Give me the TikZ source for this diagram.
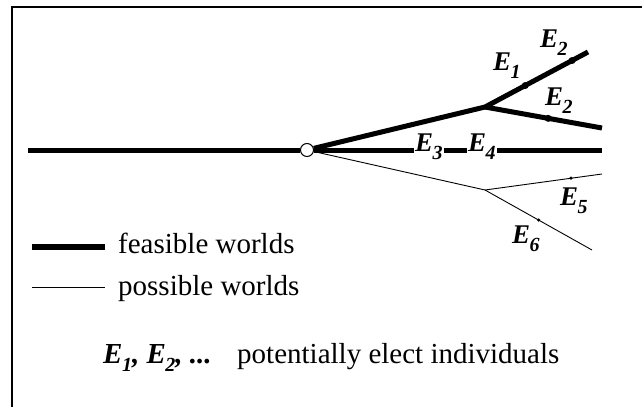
\documentclass[tikz,border=0pt]{standalone}
\usepackage{fontspec}
\setmainfont{Liberation Serif}
\usetikzlibrary{positioning}

\newcommand{\Ev}[1]{\textbf{\textit{E}}\kern-0.5pt\raisebox{-8pt}{\fontsize{20}{20}\selectfont\textbf{\textit{#1}}}}

\begin{document}
\begin{tikzpicture}[x=1pt, y=-1pt,
  feas/.style={line width=5pt, line join=round},
  poss/.style={line width=0.9pt},
  root/.style={circle, draw, fill=white, line width=1pt, minimum size=13pt, inner sep=0pt},
  tickdot/.style={circle, fill=black, minimum size=#1, inner sep=0pt},
  tickdot/.default=3.5pt,
  elab/.style={font=\fontsize{27}{27}\selectfont, anchor=base west, inner sep=1pt},
  txt/.style={font=\fontsize{29}{34}\selectfont, anchor=base west, inner sep=0pt}
]
  \useasboundingbox (0,0) rectangle (642,407);
  % frame
  \draw[line width=2.5pt] (12,407) -- (12,7) -- (642,7);

  % branch points and ends
  \coordinate (start) at (28,150);
  \node[root] (O) at (307,150) {};
  \coordinate (A) at (485,107);
  \coordinate (B) at (485,190);
  \coordinate (U) at (588,52);
  \coordinate (L) at (602,128);
  \coordinate (H) at (602,150);
  \coordinate (P) at (602,174);
  \coordinate (Q) at (592,250);

  % feasible worlds
  \draw[feas] (start) -- (O);
  \draw[feas] (O) -- (A) -- node[tickdot=7pt, pos=0.39] (m1) {} node[tickdot=7pt, pos=0.845] (m2) {} (U);
  \draw[feas] (A) -- node[tickdot=7pt, pos=0.54] (m3) {} (L);
  \draw[feas] (O) -- (H);

  % possible worlds
  \draw[poss] (O) -- (B) -- node[tickdot, pos=0.735] (m5) {} (P);
  \draw[poss] (B) -- node[tickdot, pos=0.5] (m6) {} (Q);

  % labels
  \node[elab] (e1) at (492,70) {\Ev{1}};
  \node[elab] (e2a) at (539,47) {\Ev{2}};
  \node[elab] (e2b) at (544,105) {\Ev{2}};
  \node[elab, fill=white] (e3) at (414,151) {\Ev{3}};
  \node[elab, fill=white] (e4) at (467,151) {\Ev{4}};
  \node[elab] (e5) at (559,205) {\Ev{5}};
  \node[elab] (e6) at (511,243) {\Ev{6}};

  % legend
  \coordinate (f1) at (32,247);
  \coordinate (f2) at (105,247);
  \coordinate (p1) at (32,287);
  \coordinate (p2) at (105,287);
  \draw[feas, line width=6.5pt] (f1) -- (f2);
  \draw[poss] (p1) -- (p2);
  \node[txt] (feastxt) at (118,253) {feasible worlds};
  \node[txt] (posstxt) at (118,295) {possible worlds};

  % key
  \node[txt] (key) at (103,363) {\Ev{1}\textbf{\textit{,}} \Ev{2}\textbf{\textit{, ...}}};
  \node[txt] (keytxt) at (237,363) {potentially elect individuals};
\end{tikzpicture}
\end{document}
